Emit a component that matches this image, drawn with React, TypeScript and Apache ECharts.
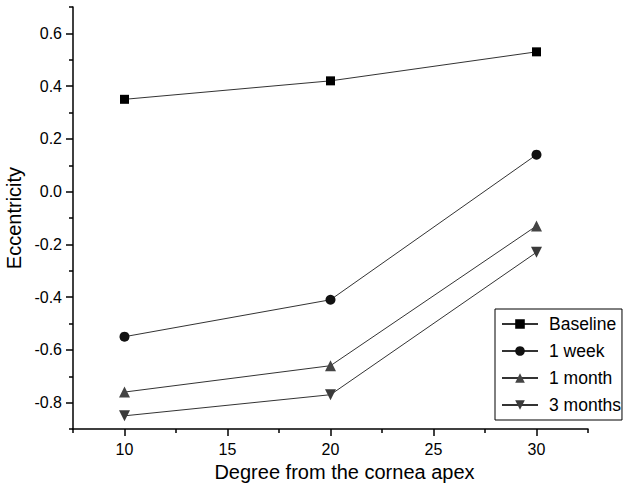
import React, { useEffect, useRef } from "react";
import * as echarts from "echarts";

const xValues = [10, 20, 30];
const seriesNames = ["Baseline", "1 week", "1 month", "3 months"];
const baseline = [0.35, 0.42, 0.53];
const oneWeek = [-0.55, -0.41, 0.14];
const oneMonth = [-0.76, -0.66, -0.13];
const threeMonths = [-0.85, -0.77, -0.23];
const yMajorTicks = [-0.8, -0.6, -0.4, -0.2, 0, 0.2, 0.4, 0.6];
const yMinorTicks = [-0.9, -0.7, -0.5, -0.3, -0.1, 0.1, 0.3, 0.5, 0.7];
const xMajorTicks = [10, 15, 20, 25, 30];
const xMinorTicks = [7.5, 12.5, 17.5, 22.5, 27.5, 32.5];

const FONT = "'Liberation Sans', Arial, sans-serif";

export default function App() {
  const ref = useRef<HTMLDivElement>(null);
  useEffect(() => {
    if (!ref.current) return;
    const chart = echarts.init(ref.current, undefined, { renderer: "svg" });
    const allValues = [baseline, oneWeek, oneMonth, threeMonths];
    const symbols = ["rect", "circle", "triangle", "triangle"];
    const rotates = [0, 0, 0, 180];
    const sizes = [9, 10, 11, 11];
    const colors = ["#000000", "#111111", "#444444", "#3a3a3a"];
    const series = seriesNames.map((name, i) => ({
      name,
      type: "line",
      data: xValues.map((x, j) => [x, allValues[i][j]]),
      symbol: symbols[i],
      symbolRotate: rotates[i],
      symbolSize: sizes[i],
      itemStyle: { color: colors[i] },
      lineStyle: { color: "#333333", width: 1 },
      xAxisIndex: 0,
      yAxisIndex: 0,
    }));
    chart.setOption({
      animation: false,
      backgroundColor: "#ffffff",
      textStyle: { fontFamily: FONT },
      grid: { left: 73, top: 7, right: 39, bottom: 57, containLabel: false, outerBoundsMode: "none" },
      legend: {
        orient: "vertical",
        left: 495,
        top: 309,
        padding: [6, 1, 6, 6],
        borderColor: "#000",
        borderWidth: 1,
        itemWidth: 36,
        itemHeight: 12,
        itemGap: 9,
        data: seriesNames,
        textStyle: { fontSize: 17.5, color: "#000", fontFamily: FONT, padding: [0, 0, 0, 6] },
      },
      xAxis: [
        {
          type: "value",
          min: 7.5,
          max: 32.5,
          name: "Degree from the cornea apex",
          nameLocation: "middle",
          nameGap: 32,
          nameTextStyle: { fontSize: 20, color: "#000", fontFamily: FONT, padding: [0, 0, 0, 28] },
          axisLine: { show: true, onZero: false, lineStyle: { color: "#000", width: 1.5 } },
          axisTick: { show: true, customValues: xMajorTicks, length: 7, lineStyle: { color: "#000", width: 1.5 } },
          axisLabel: { customValues: xMajorTicks, fontSize: 16, color: "#000", margin: 12, fontFamily: FONT },
          splitLine: { show: false },
        },
        {
          type: "value",
          min: 7.5,
          max: 32.5,
          position: "bottom",
          axisLine: { show: false, onZero: false },
          axisTick: { show: true, customValues: xMinorTicks, length: 4, lineStyle: { color: "#000", width: 1.5 } },
          axisLabel: { show: false },
          splitLine: { show: false },
        },
      ],
      yAxis: [
        {
          type: "value",
          min: -0.9,
          max: 0.7,
          name: "Eccentricity",
          nameLocation: "middle",
          nameGap: 45,
          nameTextStyle: { fontSize: 20, color: "#000", fontFamily: FONT },
          axisLine: { show: true, onZero: false, lineStyle: { color: "#000", width: 1.5 } },
          axisTick: { show: true, customValues: yMajorTicks, length: 7, lineStyle: { color: "#000", width: 1.5 } },
          axisLabel: {
            customValues: yMajorTicks,
            fontSize: 16,
            color: "#000",
            margin: 11,
            fontFamily: FONT,
            formatter: (v: number) => v.toFixed(1),
          },
          splitLine: { show: false },
        },
        {
          type: "value",
          min: -0.9,
          max: 0.7,
          position: "left",
          axisLine: { show: false, onZero: false },
          axisTick: { show: true, customValues: yMinorTicks, length: 4, lineStyle: { color: "#000", width: 1.5 } },
          axisLabel: { show: false },
          splitLine: { show: false },
        },
      ],
      series,
    });
    return () => chart.dispose();
  }, []);
  return <div ref={ref} style={{ width: 627, height: 486, position: "absolute", left: 0, top: 0 }} />;
}
